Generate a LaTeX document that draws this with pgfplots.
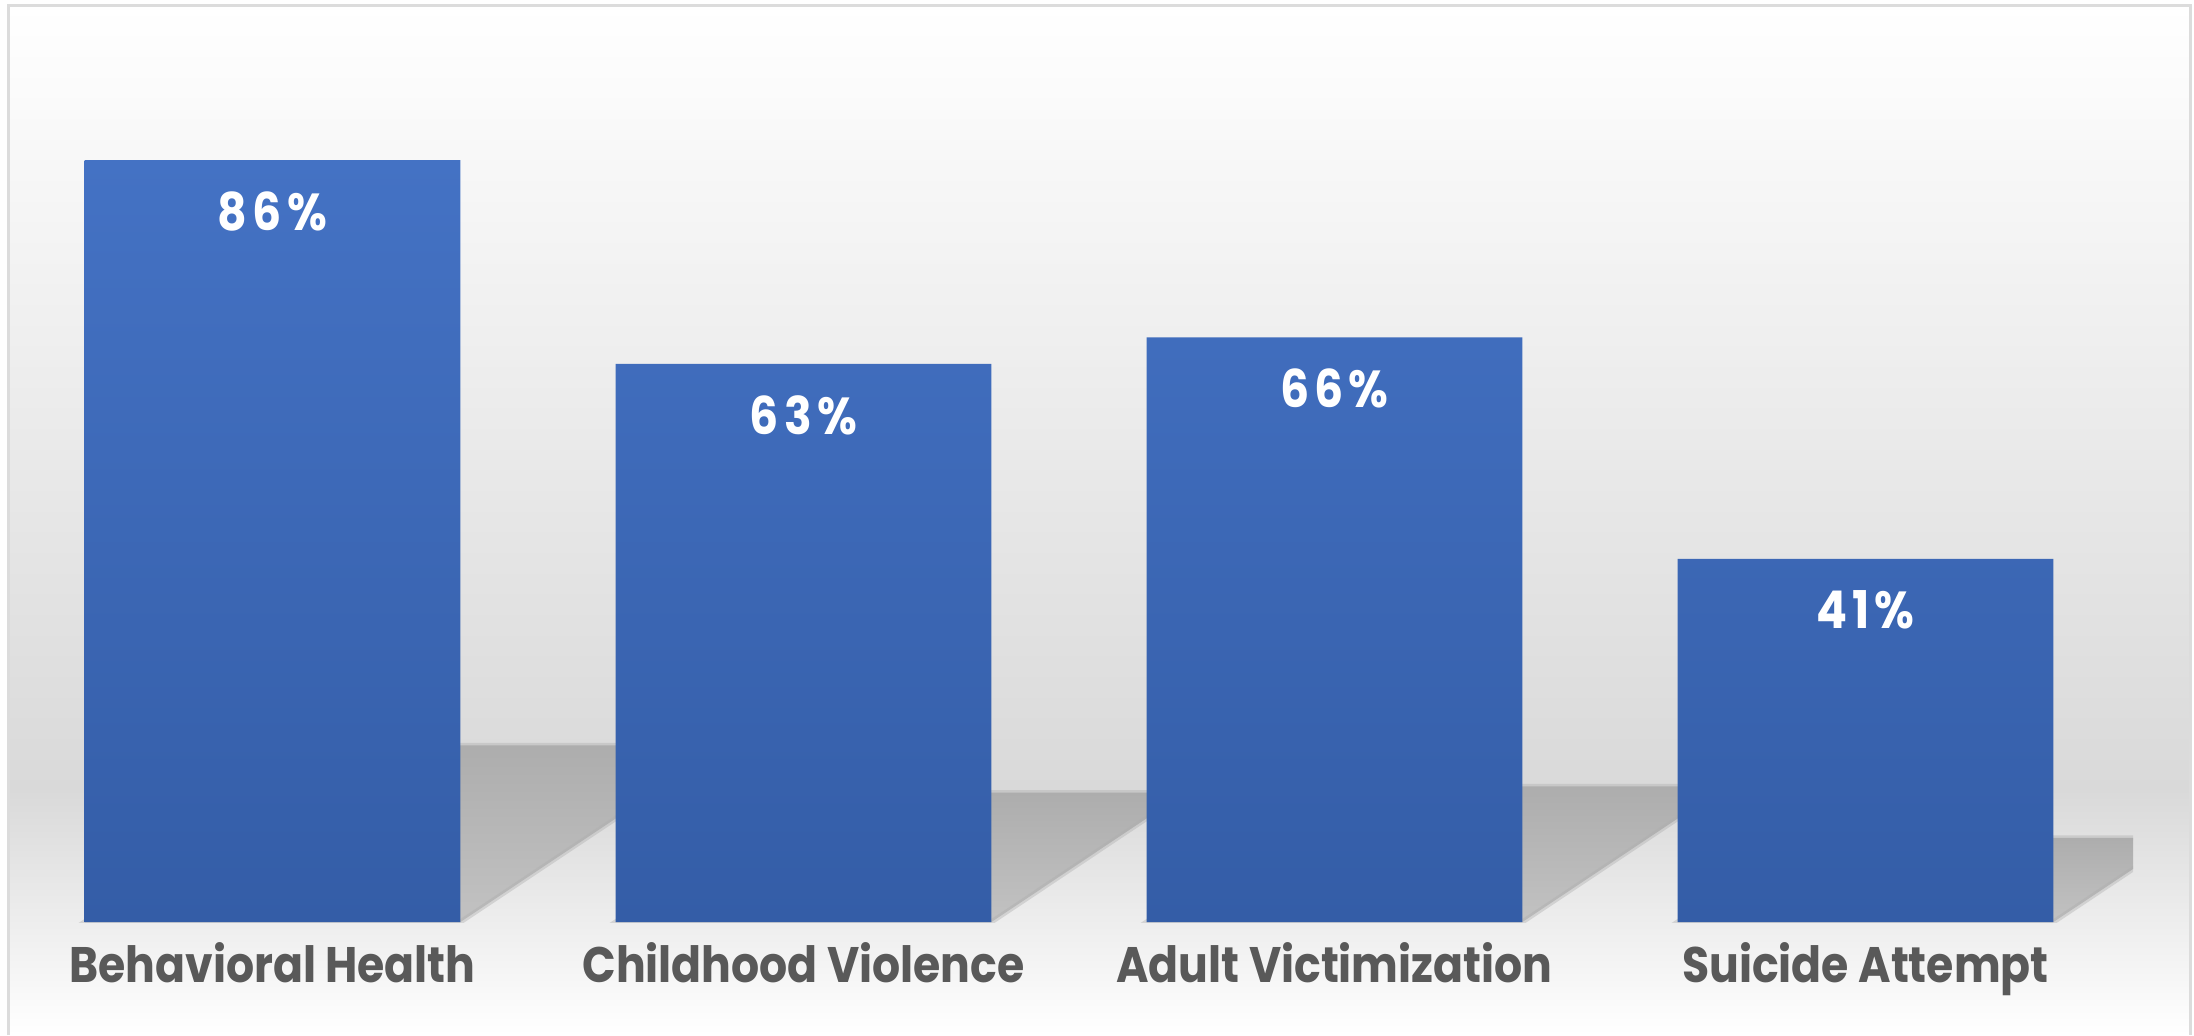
\documentclass[border=0pt]{standalone}
\usepackage{pgfplots}
\pgfplotsset{compat=1.18}
\usepackage{fontspec}
\setmainfont{Poppins}
\newfontfamily\labfont{Poppins}[FakeStretch=0.885]
\newfontfamily\valfont{Poppins}[FakeStretch=0.88, LetterSpace=10]
\definecolor{barTop}{HTML}{4472C4}
\definecolor{barBot}{HTML}{345DA7}
\definecolor{txt}{HTML}{595959}
\definecolor{bgGray}{HTML}{D9D9D9}
\definecolor{shdTop}{HTML}{ADADAD}
\definecolor{shdBot}{HTML}{C2C2C2}
\definecolor{frameC}{HTML}{DCDCDC}
\begin{document}
\begin{tikzpicture}[x=1cm,y=1cm]
\useasboundingbox (0,0) rectangle (21.94,10.35);
\fill[white] (0,0) rectangle (21.94,10.35);
\shade[top color=white, bottom color=bgGray] (0.08,2.45) rectangle (21.90,10.30);
\shade[top color=bgGray, bottom color=white] (0.08,0) rectangle (21.90,2.46);
\draw[frameC, line width=0.03cm] (0.08,0) -- (0.08,10.30) -- (21.90,10.30) -- (21.90,0);
\begin{axis}[
  at={(0.176cm,1.13cm)}, anchor=south west,
  scale only axis, width=21.155cm, height=8.22cm,
  xmin=-0.48, xmax=3.504, ymin=0, ymax=92.8,
  axis line style={draw=none},
  ymajorticks=false,
  xtick={0,1,2,3},
  xticklabels={Behavioral Health, Childhood Violence, Adult Victimization, Suicide Attempt},
  major tick length=0pt,
  xticklabel style={anchor=base, yshift=-0.60cm, text=txt, font=\labfont\bfseries\fontsize{14.2}{15}\selectfont},
  /pgf/number format/assume math mode=true,
]
% perspective shadows
\addplot[top color=shdTop, bottom color=shdBot, draw=shdTop, line width=0.05cm, draw opacity=0.4] coordinates {(-0.354,0) (0.354,0) (0.853,19.95) (0.145,19.95)} -- cycle;
\addplot[top color=shdTop, bottom color=shdBot, draw=shdTop, line width=0.05cm, draw opacity=0.4] coordinates {(0.646,0) (1.354,0) (1.719,14.62) (1.011,14.62)} -- cycle;
\addplot[top color=shdTop, bottom color=shdBot, draw=shdTop, line width=0.05cm, draw opacity=0.4] coordinates {(1.646,0) (2.354,0) (2.737,15.31) (2.029,15.31)} -- cycle;
\addplot[top color=shdTop, bottom color=shdBot, draw=shdTop, line width=0.05cm, draw opacity=0.4] coordinates {(2.646,0) (3.354,0) (3.592,9.51) (2.884,9.51)} -- cycle;
% bars
\addplot[ybar, bar shift=0pt, bar width=0.708, draw=none, top color=barTop, bottom color=barBot,
  nodes near coords={\pgfmathprintnumber{\pgfplotspointmeta}\%},
  every node near coord/.append style={anchor=center, yshift=-0.51cm, text=white, font=\valfont\bfseries\fontsize{14.8}{16}\selectfont}]
  coordinates {(0,86) (1,63) (2,66) (3,41)};
\end{axis}
\end{tikzpicture}
\end{document}
